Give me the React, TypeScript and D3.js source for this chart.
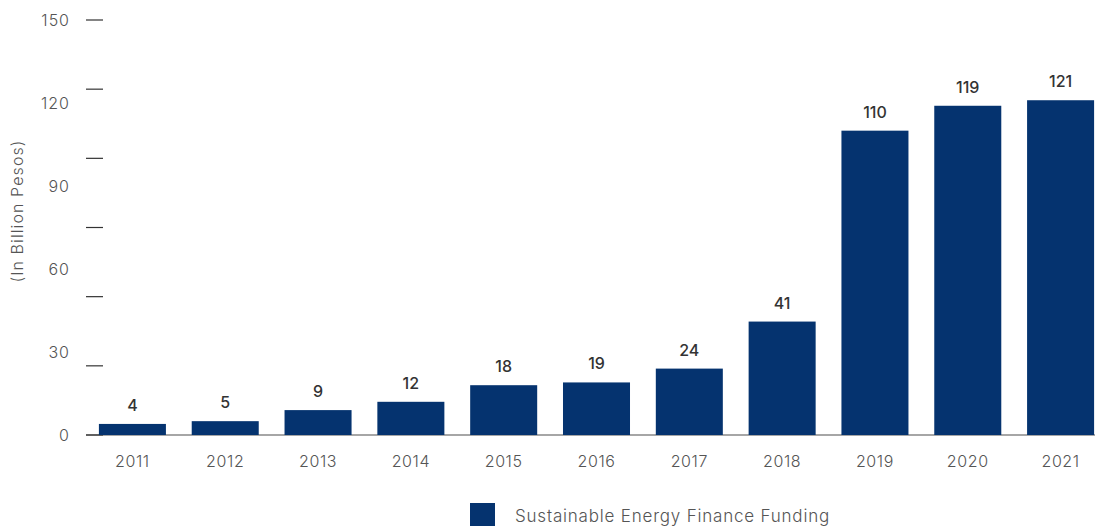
import React from "react";
import * as d3 from "d3";

const years = ["2011", "2012", "2013", "2014", "2015", "2016", "2017", "2018", "2019", "2020", "2021"];
const funding = [4, 5, 9, 12, 18, 19, 24, 41, 110, 119, 121];
const labelTicks = [0, 30, 60, 90, 120, 150];
const markTicks = [0, 25, 50, 75, 100, 125, 150];
const seriesName = "Sustainable Energy Finance Funding";

const W = 1095;
const H = 526;
const BAR = "#05336f";
const TXT = "#555";

export default function App() {
  const y = d3.scaleLinear().domain([0, 150]).range([435, 20]);
  const x = d3.scaleBand<string>().domain(years).range([86, 1107]).paddingInner(0.278).paddingOuter(0.139);
  const font = "Inter, 'Open Sans', sans-serif";
  return (
    <svg width={W} height={H} style={{ position: "absolute", left: 0, top: 0, fontFamily: font }}>
      <line x1={86} x2={W} y1={y(0)} y2={y(0)} stroke="#888" strokeWidth={1.5} />
      {markTicks.map((t) => (
        <line key={"m" + t} x1={86} x2={103} y1={y(t)} y2={y(t)} stroke="#333" strokeWidth={1.2} />
      ))}
      {labelTicks.map((t) => (
        <text key={"l" + t} x={70} y={y(t)} dy="0.35em" textAnchor="end" fontSize={16} fontWeight={300} letterSpacing={1} fill={TXT}>
          {t}
        </text>
      ))}
      <text transform={`translate(23,${211}) rotate(-90)`} textAnchor="middle" fontSize={16} fontWeight={300} letterSpacing={1.1} fill={TXT}>
        (In Billion Pesos)
      </text>
      {years.map((yr, i) => (
        <g key={yr}>
          <rect x={x(yr)} y={y(funding[i])} width={x.bandwidth()} height={y(0) - y(funding[i])} fill={BAR} />
          <text x={(x(yr) as number) + x.bandwidth() / 2} y={y(funding[i]) - 13} textAnchor="middle" fontSize={16} fontWeight={500} fill="#333">
            {funding[i]}
          </text>
          <text x={(x(yr) as number) + x.bandwidth() / 2} y={461} dy="0.35em" textAnchor="middle" fontSize={16} fontWeight={300} letterSpacing={0.6} fill={TXT}>
            {yr}
          </text>
        </g>
      ))}
      <rect x={470} y={503} width={25} height={23} fill={BAR} />
      <text x={515} y={516} dy="0.35em" fontSize={17} fontWeight={300} letterSpacing={0.8} fill={TXT}>
        {seriesName}
      </text>
    </svg>
  );
}
